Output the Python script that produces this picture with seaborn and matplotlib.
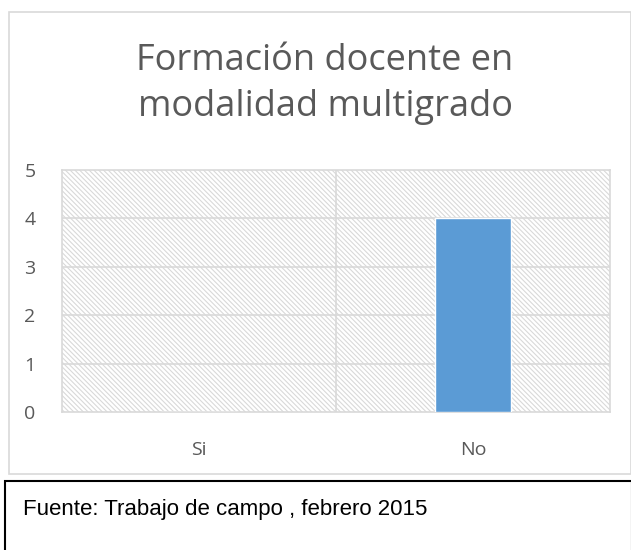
import matplotlib
matplotlib.use("Agg")
import matplotlib.pyplot as plt
import seaborn as sns
import pandas as pd
from matplotlib.patches import Rectangle

categories = ["Si", "No"]
values = [0, 4]
yticks = [0, 1, 2, 3, 4, 5]
title = "Formación docente en\nmodalidad multigrado"
caption = "Fuente: Trabajo de campo , febrero 2015"

sns.set_theme(style="white")
plt.rcParams['font.family'] = ['Open Sans', 'DejaVu Sans']
plt.rcParams['hatch.linewidth'] = 0.8
plt.rcParams['hatch.color'] = '#d9d9d9'

W, H = 631, 550
fig = plt.figure(figsize=(W/100, H/100), dpi=100)

# outer chart border
fig.patches.append(Rectangle((9/W, 1-474/H), (W-9)/W, (474-12)/H, transform=fig.transFigure,
                             fill=False, edgecolor='#d9d9d9', linewidth=1.2, zorder=0))
# caption box
fig.patches.append(Rectangle((5/W, -0.01), (W-4)/W, (550-481)/H + 0.01, transform=fig.transFigure,
                             fill=False, edgecolor='black', linewidth=1.5, zorder=0))

ax = fig.add_axes([62/W, 1-412/H, 548/W, 242/H])
df = pd.DataFrame({"cat": categories, "val": values})

# hatched background
ax.add_patch(Rectangle((0, 0), 1, 1, transform=ax.transAxes, facecolor='white',
                       edgecolor='#d9d9d9', hatch='\\' * 7, linewidth=0, zorder=0))

sns.barplot(data=df, x="cat", y="val", color="#5b9bd5", width=0.275, saturation=1, ax=ax, zorder=3)
ax.set_ylim(0, 5)
ax.set_xlim(-0.5, 1.5)
ax.set_yticks(yticks)
ax.set_yticklabels([str(t) for t in yticks])
ax.set_xlabel("")
ax.set_ylabel("")
for t in yticks[1:-1]:
    ax.axhline(t, color='#d9d9d9', linewidth=1.2, zorder=1)
ax.axvline(0.5, color='#d9d9d9', linewidth=1.2, zorder=1)
for s in ax.spines.values():
    s.set_color('#d9d9d9')
    s.set_linewidth(1.2)
ax.tick_params(axis='both', length=0, labelsize=14, colors='#595959')
ax.tick_params(axis='y', pad=19)
ax.tick_params(axis='x', pad=21)
ax.set_facecolor('white')

fig.text(325/W, 1-84/H, title, ha='center', va='center', fontsize=26, color='#595959',
         linespacing=1.38)
fig.text(23/W, 1-510/H, caption, ha='left', va='center', fontsize=16, color='black',
         family=['Liberation Sans', 'DejaVu Sans'])

fig.savefig("out.png", dpi=100)
